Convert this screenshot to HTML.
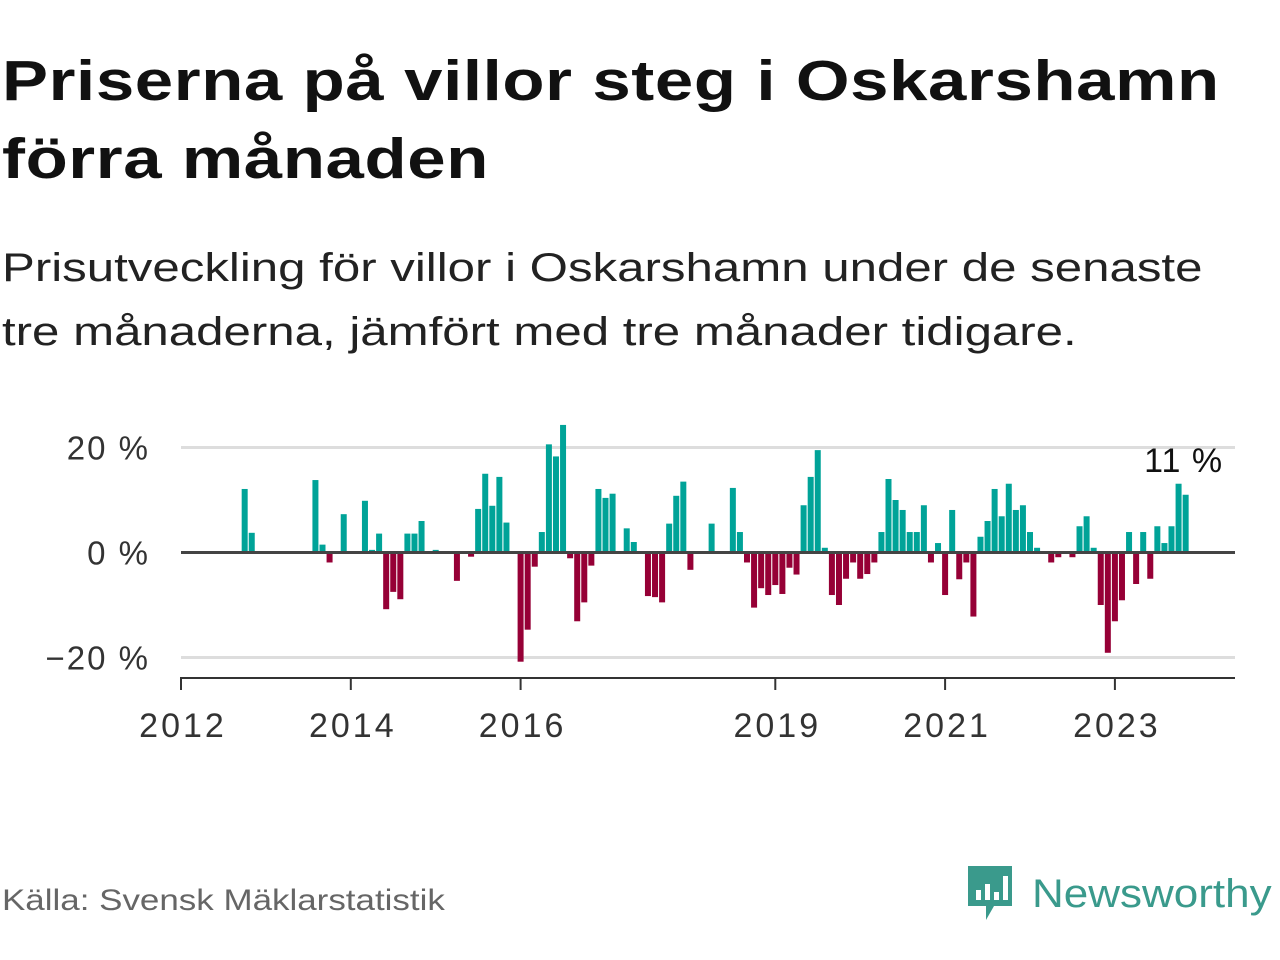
<!DOCTYPE html>
<html><head><meta charset="utf-8">
<style>
body{margin:0;width:1280px;height:960px;background:#fff;font-family:"Liberation Sans",sans-serif;overflow:hidden;position:relative}
#title{position:absolute;left:2px;top:42px;font-size:57px;font-weight:bold;line-height:78px;color:#111;margin:0;letter-spacing:0.5px;transform:scaleX(1.21);transform-origin:0 0;white-space:nowrap}
#sub{position:absolute;left:2px;top:236px;font-size:40px;line-height:64px;color:#222;margin:0;transform:scaleX(1.23);transform-origin:0 0;white-space:nowrap}
#src{position:absolute;left:2px;top:884px;font-size:30px;color:#666;transform:scaleX(1.165);transform-origin:0 0;white-space:nowrap}
#logo{position:absolute;left:964px;top:864px;display:flex;align-items:center}
#logo span{font-size:40px;color:#3a9a8c;margin-left:16px;font-weight:500;display:inline-block;transform:scaleX(1.1);transform-origin:0 50%}
</style></head><body>
<h1 id="title">Priserna på villor steg i Oskarshamn<br>förra månaden</h1>
<p id="sub">Prisutveckling för villor i Oskarshamn under de senaste<br>tre månaderna, jämfört med tre månader tidigare.</p>
<svg id="chart" width="1280" height="960" style="position:absolute;left:0;top:0"></svg>
<div id="src">Källa: Svensk Mäklarstatistik</div>
<div id="logo">
<svg width="52" height="60" viewBox="0 0 52 60"><path d="M4 2h44v40H30l-8 14v-14H4z" fill="#3a9a8c"/><rect x="12" y="26" width="5" height="10" fill="#fff"/><rect x="21" y="20" width="5" height="16" fill="#fff"/><rect x="30" y="28" width="5" height="8" fill="#fff"/><rect x="39" y="12" width="5" height="24" fill="#fff"/></svg>
<span>Newsworthy</span></div>
<script>
const startYear = 2012;
const yTicks = [20, 0, -20];
const yTickLabels = ["20 %", "0 %", "\u221220 %"];
const xTickYears = [2012, 2014, 2016, 2019, 2021, 2023];
const values = [
0,0,0,0,0,0,0,0,0,12.1,3.75,0, 0,0,0,0,0,0,0,13.8,1.5,-1.9,0,7.3,
0,0,9.85,0.5,3.6,-10.8,-7.5,-8.9,3.6,3.6,6.0,0, 0.5,0,0,-5.4,0,-0.8,8.3,15.0,8.9,14.4,5.7,0,
-20.8,-14.7,-2.7,3.9,20.6,18.3,24.3,-1.1,-13.1,-9.5,-2.5,12.1, 10.4,11.2,0,4.6,2.0,0,-8.3,-8.5,-9.5,5.5,10.8,13.5,
-3.3,0,0,5.5,0,0,12.3,3.9,-1.9,-10.5,-6.8,-8.1, -6.2,-7.9,-2.9,-4.2,9.0,14.4,19.5,0.9,-8.1,-10.0,-5.0,-1.9,
-5.0,-4.1,-1.9,3.9,14.0,10.0,8.1,3.9,3.9,9.0,-1.9,1.8, -8.1,8.1,-5.1,-1.9,-12.2,3.0,6.0,12.1,6.9,13.1,8.1,9.0,
3.9,0.9,0,-1.9,-0.9,0,-0.9,5.0,6.9,0.9,-10.0,-19.1, -13.1,-9.1,3.9,-6.0,3.9,-5.0,5.0,1.8,5.0,13.1,11.0
];
const lastLabel = "11 %";
const NS="http://www.w3.org/2000/svg";
const svg=document.getElementById('chart');
const X0=181, X1=1235, PM=7.075;
function x(i){return X0+i*PM;}
function y(v){return 552.5-v*5.25;}
function mk(t,a){const e=document.createElementNS(NS,t);for(const k in a)e.setAttribute(k,a[k]);svg.appendChild(e);return e;}
yTicks.forEach((t,k)=>{
  if(t!==0){const g=mk('line',{x1:X0,x2:X1,y1:y(t),y2:y(t),stroke:'#ddd','stroke-width':3});
  
  }
  const l=mk('text',{x:150,y:y(t)+12,'text-anchor':'end','font-size':33,fill:'#333','letter-spacing':2,'font-family':'Liberation Sans, sans-serif'});
  l.textContent=yTickLabels[k];
  
  
});
values.forEach((v,i)=>{
  if(v===0)return;
  const r=mk('rect',{x:x(i)-3,width:6,y:v>0?y(v):y(0),height:Math.abs(y(v)-y(0)),fill:v>0?'#00a398':'#960036'});
  
  
});
const z=mk('line',{x1:X0,x2:X1,y1:y(0),y2:y(0),stroke:'#444','stroke-width':3});


const ax=mk('line',{x1:X0-1,x2:X1,y1:678,y2:678,stroke:'#333','stroke-width':2});


xTickYears.forEach(yr=>{
  const xx=x((yr-startYear)*12);
  const t=mk('line',{x1:xx,x2:xx,y1:678,y2:690,stroke:'#333','stroke-width':2});
  
  
  const l=mk('text',{x:xx+2,y:737,'text-anchor':'middle','font-size':34,fill:'#333','letter-spacing':3,'font-family':'Liberation Sans, sans-serif'});
  l.textContent=yr;
  
  
});
const li=values.length-1;
const lb=mk('text',{x:x(li)-2,y:472,'text-anchor':'middle','font-size':34,fill:'#111','letter-spacing':1,'font-family':'Liberation Sans, sans-serif'});
lb.textContent=lastLabel;


</script>
</body></html>
